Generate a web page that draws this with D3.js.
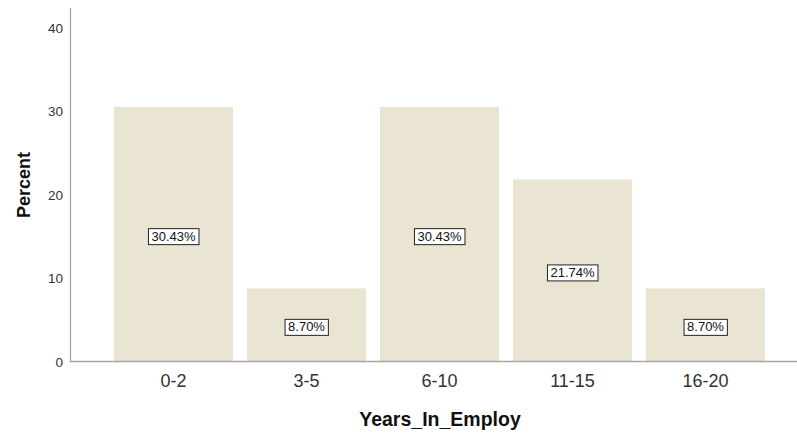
<!DOCTYPE html>
<html><head><meta charset="utf-8">
<script src="https://cdn.jsdelivr.net/npm/d3@7"></script>
<style>body{margin:0;background:#fff}svg{display:block}</style>
</head><body>
<svg id="c" width="797" height="433"></svg>
<script>
const categories = ["0-2","3-5","6-10","11-15","16-20"];
const percents = [30.43, 8.70, 30.43, 21.74, 8.70];
const yTicks = [0,10,20,30,40];
const xTitle = "Years_In_Employ";
const yTitle = "Percent";

const svg = d3.select("#c");
const y = d3.scaleLinear().domain([0,40]).range([361,27]);
const x = d3.scaleBand().domain(categories).range([107,772]).paddingInner(0.105).paddingOuter(0.0525);

const font = "Arial, 'Liberation Sans', sans-serif";

svg.selectAll("rect.bar").data(percents).enter().append("rect")
  .attr("class","bar")
  .attr("x",(d,i)=>x(categories[i]))
  .attr("width",x.bandwidth())
  .attr("y",d=>y(d))
  .attr("height",d=>y(0)-y(d))
  .attr("fill","#eae5d3");

// axes lines
svg.append("line").attr("x1",70.5).attr("x2",70.5).attr("y1",8).attr("y2",361.5)
  .attr("stroke","#a6a6a6").attr("stroke-width",1.3);
svg.append("line").attr("x1",70).attr("x2",797).attr("y1",361.5).attr("y2",361.5)
  .attr("stroke","#a6a6a6").attr("stroke-width",1.3);

// y ticks
const yAxis = d3.axisLeft(y).tickValues(yTicks).tickSize(0).tickPadding(0);
const gy = svg.append("g").attr("transform","translate(63,0)").call(yAxis);
gy.select(".domain").remove();
gy.selectAll("text").attr("font-family",font).attr("font-size",13.5).attr("fill","#333").attr("dy","0.4em");

// x ticks
const xAxis = d3.axisBottom(x).tickSize(0).tickPadding(0);
const gx = svg.append("g").attr("transform","translate(0,386.5)").call(xAxis);
gx.select(".domain").remove();
gx.selectAll("text").attr("font-family",font).attr("font-size",18).attr("fill","#333").attr("dy","0");

// labels
const lab = svg.selectAll("g.lab").data(percents).enter().append("g").attr("class","lab")
  .attr("transform",(d,i)=>`translate(${x(categories[i])+x.bandwidth()/2},${(y(d)+y(0))/2+2})`);
lab.append("text").text(d=>d.toFixed(2)+"%")
  .attr("text-anchor","middle").attr("dy","0.36em")
  .attr("font-family",font).attr("font-size",13).attr("fill","#111")
  .each(function(){
    const b=this.getBBox();
    d3.select(this.parentNode).insert("rect","text")
      .attr("x",b.x-3).attr("y",b.y).attr("width",b.width+6).attr("height",b.height+1)
      .attr("fill","#fff").attr("stroke","#222").attr("stroke-width",1);
  });

// titles
svg.append("text").text(xTitle).attr("x",440).attr("y",425.5).attr("text-anchor","middle")
  .attr("font-family",font).attr("font-size",19.5).attr("font-weight","bold").attr("fill","#111");
svg.append("text").text(yTitle).attr("transform","translate(30,185) rotate(-90)").attr("text-anchor","middle")
  .attr("font-family",font).attr("font-size",18).attr("font-weight","bold").attr("fill","#111");
</script>
</body></html>
